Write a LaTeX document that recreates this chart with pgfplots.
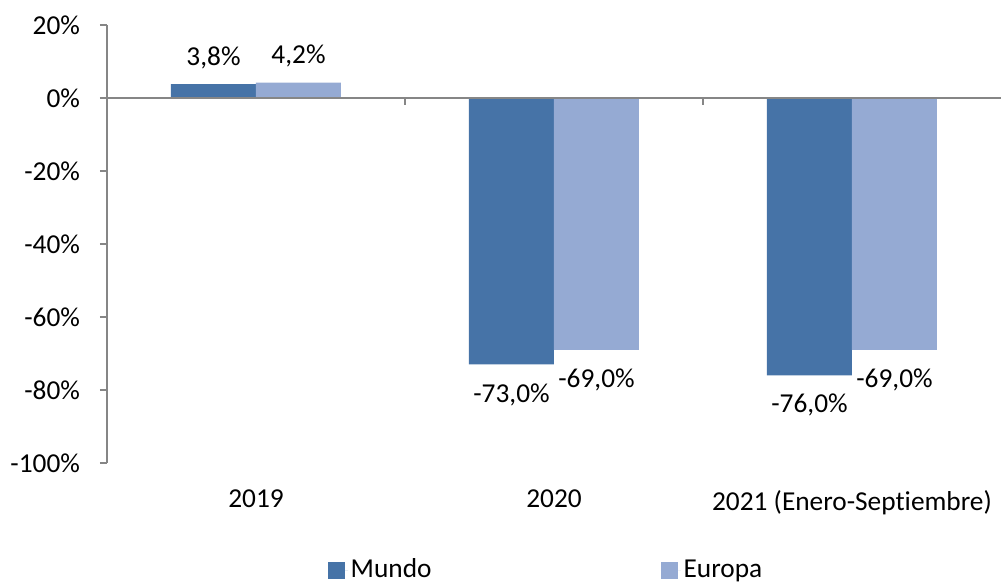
\documentclass[border=0pt]{standalone}
\usepackage{fontspec}
\setmainfont{Carlito}[Ligatures=NoCommon]
\usepackage{pgfplots}
\pgfplotsset{compat=1.18}
\definecolor{mundo}{HTML}{4673A7}
\definecolor{europa}{HTML}{95AAD3}
\definecolor{axgray}{HTML}{868686}
\begin{document}
\fontsize{20.5}{24}\selectfont
\begin{tikzpicture}
\useasboundingbox (-80.25pt,-91.5pt) rectangle (670.5pt,347.25pt);
\begin{axis}[
  at={(0,0)}, anchor=south west,
  scale only axis, width=670.5pt, height=328.5pt,
  ybar=0pt, bar width=63.75pt,
  xmin=-0.5, xmax=2.5, ymin=-100, ymax=20,
  xtick={0,1,2},
  xticklabels={2019,2020,2021 (Enero-Septiembre)},
  ytick={-100,-80,-60,-40,-20,0,20},
  yticklabels={-100\%,-80\%,-60\%,-40\%,-20\%,0\%,20\%},
  axis y line*=left,
  axis x line*=bottom,
  x axis line style={draw=none},
  xtick style={draw=none},
  y axis line style={draw=axgray, line width=0.8pt},
  ytick style={draw=axgray, line width=0.8pt},
  tick align=outside,
  major tick length=5.25pt,
  yticklabel style={font=\fontsize{20.5}{24}\selectfont, xshift=-8pt},
  xticklabel style={font=\fontsize{20.5}{24}\selectfont, yshift=-8pt},
  /pgf/number format/assume math mode=true,
  nodes near coords={\raisebox{0pt}[\height][0pt]{\pgfmathprintnumber[fixed,fixed zerofill,precision=1,use comma]{\pgfplotspointmeta}\%}},
  every node near coord/.append style={font=\fontsize{20.5}{24}\selectfont, inner ysep=14pt, black},
  clip=false,
  legend style={at={(0.4916,-0.245)}, anchor=center, draw=none, legend columns=2,
    font=\fontsize{20.5}{24}\selectfont,
    /tikz/every even column/.append style={column sep=170pt}},
  legend image code/.code={\fill[#1] (0pt,-6.4pt) rectangle (12.75pt,6.4pt); \path (0pt,0pt) -- (15pt,0pt);},
]
\addplot[fill=mundo, draw=none] coordinates {(0,3.8) (1,-73) (2,-76)};
\addplot[fill=europa, draw=none] coordinates {(0,4.2) (1,-69) (2,-69)};
\legend{Mundo,Europa}
\draw[axgray, line width=1.1pt] (axis cs:-0.5,0) -- (axis cs:2.5,0);
\draw[axgray, line width=0.8pt] (axis cs:0.5,0) -- ([yshift=-5.25pt]axis cs:0.5,0);
\draw[axgray, line width=0.8pt] (axis cs:1.5,0) -- ([yshift=-5.25pt]axis cs:1.5,0);
\end{axis}
\end{tikzpicture}
\end{document}
